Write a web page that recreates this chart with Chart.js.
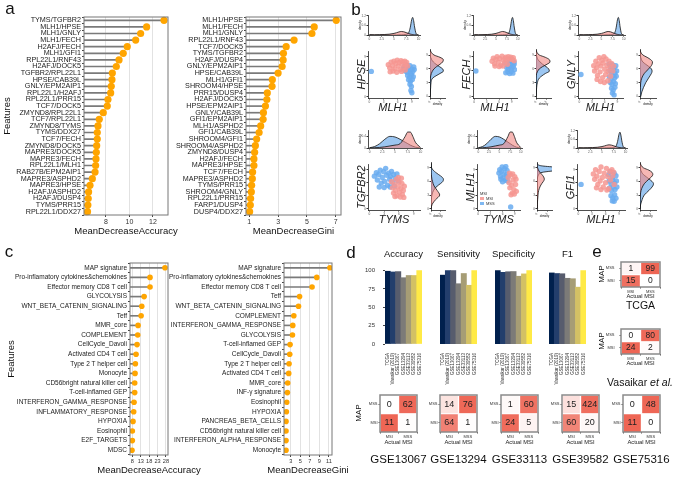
<!DOCTYPE html>
<html>
<head>
<meta charset="utf-8">
<script src="https://cdn.jsdelivr.net/npm/chart.js@4.4.1/dist/chart.umd.min.js"></script>
<style>
body { margin: 0; background: #fff; }
#fig { position: relative; width: 676px; height: 478px; overflow: hidden; font-family: "Liberation Sans", Arial, sans-serif; color: #111; }
.t { position: absolute; white-space: nowrap; line-height: 1; transform: translate(-50%, -50%); }
.lg { position: absolute; font-size: 4px; line-height: 5px; color: #333; }
.lg i { display: inline-block; width: 4px; height: 3px; margin-right: 2px; vertical-align: middle; }
</style>
</head>
<body>
<div id="fig"></div>
<script>
// ---- a: importance of gene pairs ----
const accPairs = ['TYMS/TGFBR2', 'MLH1/HPSE', 'MLH1/GNLY', 'MLH1/FECH', 'H2AFJ/FECH', 'MLH1/GFI1', 'RPL22L1/RNF43', 'H2AFJ/DOCK5', 'TGFBR2/RPL22L1', 'HPSE/CAB39L', 'GNLY/EPM2AIP1', 'RPL22L1/H2AFJ', 'RPL22L1/PRR15', 'TCF7/DOCK5', 'ZMYND8/RPL22L1', 'TCF7/RPL22L1', 'ZMYND8/TYMS', 'TYMS/DDX27', 'TCF7/FECH', 'ZMYND8/DOCK5', 'MAPRE3/DOCK5', 'MAPRE3/FECH', 'RPL22L1/MLH1', 'RAB27B/EPM2AIP1', 'MAPRE3/ASPHD2', 'MAPRE3/HPSE', 'H2AFJ/ASPHD2', 'H2AFJ/DUSP4', 'TYMS/PRR15', 'RPL22L1/DDX27'];
const accVals = [12.94, 11.46, 10.95, 10.53, 9.81, 9.47, 9.11, 8.88, 8.54, 8.51, 8.45, 8.40, 8.17, 8.11, 7.77, 7.43, 7.32, 7.26, 7.26, 7.21, 7.18, 7.15, 7.12, 7.07, 6.84, 6.64, 6.52, 6.49, 6.46, 6.43];
const giniPairs = ['MLH1/HPSE', 'MLH1/FECH', 'MLH1/GNLY', 'RPL22L1/RNF43', 'TCF7/DOCK5', 'TYMS/TGFBR2', 'H2AFJ/DUSP4', 'GNLY/EPM2AIP1', 'HPSE/CAB39L', 'MLH1/GFI1', 'SHROOM4/HPSE', 'PRR15/DUSP4', 'H2AFJ/DOCK5', 'HPSE/EPM2AIP1', 'GNLY/CAB39L', 'GFI1/EPM2AIP1', 'MLH1/ASPHD2', 'GFI1/CAB39L', 'SHROOM4/GFI1', 'SHROOM4/ASPHD2', 'ZMYND8/DUSP4', 'H2AFJ/FECH', 'MAPRE3/HPSE', 'TCF7/FECH', 'MAPRE3/ASPHD2', 'TYMS/PRR15', 'SHROOM4/GNLY', 'RPL22L1/PRR15', 'FARP1/DUSP4', 'DUSP4/DDX27'];
const giniVals = [7.04, 5.51, 5.35, 4.11, 3.56, 3.37, 3.35, 3.28, 3.0, 2.6, 2.58, 2.25, 2.22, 2.12, 1.98, 1.96, 1.79, 1.68, 1.51, 1.42, 1.37, 1.32, 1.32, 1.23, 1.21, 1.16, 1.14, 1.09, 1.07, 1.02];
const aAccTicks = [8, 10, 12];
const aGiniTicks = [1, 3, 5, 7];

// ---- c: importance of signatures ----
const cAccFeats = ['MAP signature', 'Pro-inflamatory cytokines&chemokines', 'Effector memory CD8 T cell', 'GLYCOLYSIS', 'WNT_BETA_CATENIN_SIGNALING', 'Teff', 'MMR_core', 'COMPLEMENT', 'CellCycle_Davoli', 'Activated CD4 T cell', 'Type 2 T helper cell', 'Monocyte', 'CD56bright natural killer cell', 'T-cell-inflamed GEP', 'INTERFERON_GAMMA_RESPONSE', 'INFLAMMATORY_RESPONSE', 'HYPOXIA', 'Eosinophil', 'E2F_TARGETS', 'MDSC'];
const cAccVals = [27.4, 18.5, 18.5, 15.0, 13.6, 13.2, 11.4, 11.2, 10.8, 10.2, 9.8, 9.6, 9.4, 9.4, 9.0, 8.8, 8.4, 8.0, 8.0, 7.8];
const cGiniFeats = ['MAP signature', 'Pro-inflamatory cytokines&chemokines', 'Effector memory CD8 T cell', 'Teff', 'WNT_BETA_CATENIN_SIGNALING', 'COMPLEMENT', 'INTERFERON_GAMMA_RESPONSE', 'GLYCOLYSIS', 'T-cell-inflamed GEP', 'CellCycle_Davoli', 'Type 2 T helper cell', 'Activated CD4 T cell', 'MMR_core', 'INF-γ signature', 'Eosinophil', 'HYPOXIA', 'PANCREAS_BETA_CELLS', 'CD56bright natural killer cell', 'INTERFERON_ALPHA_RESPONSE', 'Monocyte'];
const cGiniVals = [11.2, 8.45, 7.46, 4.84, 4.62, 3.64, 3.42, 3.35, 2.85, 2.78, 2.64, 2.57, 2.36, 2.29, 2.15, 2.08, 2.0, 2.0, 2.0, 2.0];
const cAccTicks = [8, 13, 18, 23, 28];
const cGiniTicks = [3, 5, 7, 9, 11];

// ---- b: expression scatter (MSI pink, MSS blue) ----
const hpseMSI = [[4.0,7.2],[4.3,6.5],[4.6,7.8],[4.9,7.0],[5.2,8.0],[5.4,6.3],[5.6,7.5],[5.9,8.2],[6.1,6.9],[6.3,7.7],[6.5,6.1],[6.7,8.1],[6.9,7.3],[7.1,7.9],[7.3,6.6],[7.5,8.0],[7.7,7.2],[7.9,7.7],[8.1,6.9],[5.0,5.8],[5.8,5.5],[6.8,5.7],[4.4,5.6],[7.6,6.0]];
const hpseMSS = [[7.4,6.8],[7.8,7.2],[8.2,6.5],[8.6,7.0],[9.0,6.2],[9.4,6.7],[7.6,5.8],[8.0,5.5],[8.4,6.0],[8.8,5.3],[9.2,5.7],[9.5,6.1],[8.1,4.8],[8.5,4.4],[8.9,4.9],[9.3,4.5],[8.3,3.8],[8.7,3.5],[9.1,3.9],[8.6,2.8],[8.9,2.3],[8.8,1.4],[9.0,0.9],[7.2,6.3],[0.4,5.7]];
const fechMSI = [[4.3,8.0],[4.6,8.7],[4.9,7.4],[5.2,8.4],[5.5,9.0],[5.8,7.8],[6.1,8.6],[6.4,7.1],[6.7,9.1],[7.0,8.2],[7.3,7.6],[7.6,8.9],[7.9,8.3],[8.2,9.0],[8.5,8.5],[8.8,8.9],[9.1,8.4],[9.4,8.8],[5.0,6.9],[6.0,6.8],[6.9,6.9],[8.0,7.3],[9.6,8.1],[7.4,8.6]];
const fechMSS = [[7.6,7.6],[8.0,7.2],[8.4,7.9],[8.8,7.4],[9.2,7.9],[9.6,7.3],[7.8,6.6],[8.2,6.2],[8.6,6.8],[9.0,6.4],[9.4,6.8],[9.7,6.1],[8.1,5.6],[8.5,5.2],[8.9,5.7],[9.3,5.3],[7.6,5.4],[9.6,7.8],[0.4,5.8]];
const gnlyMSI = [[3.4,7.0],[3.6,5.8],[3.9,8.0],[4.1,6.5],[4.3,4.8],[4.5,7.4],[4.7,8.8],[4.9,5.6],[5.1,6.9],[5.3,8.2],[5.5,4.3],[5.6,7.6],[5.8,9.0],[6.0,6.2],[6.2,5.0],[6.3,8.5],[6.5,7.1],[6.7,3.6],[6.8,5.7],[7.0,8.0],[7.2,6.6],[7.4,4.6],[7.6,7.5],[7.9,5.8],[8.1,6.9],[5.0,3.4],[4.2,3.9],[5.9,3.2]];
const gnlyMSS = [[7.0,7.4],[7.4,6.8],[7.8,7.2],[8.2,6.5],[8.6,7.0],[7.2,5.9],[7.6,5.4],[8.0,6.0],[8.4,5.3],[8.8,5.8],[7.1,4.5],[7.5,4.0],[7.9,4.7],[8.3,4.2],[8.7,4.6],[7.3,3.2],[7.7,2.8],[8.1,3.4],[8.5,2.9],[7.6,1.9],[8.0,1.5],[8.4,2.1],[7.8,0.8],[8.2,0.4],[0.4,5.0]];
const tgfMSS = [[1.0,7.5],[1.4,8.3],[1.6,6.6],[1.9,7.9],[2.2,8.9],[2.4,5.9],[2.6,7.2],[2.9,8.5],[3.1,6.3],[3.3,9.3],[3.5,7.7],[3.7,5.4],[3.9,8.2],[4.1,6.8],[4.3,7.4],[4.5,8.6],[4.7,6.1],[4.9,7.9],[5.1,5.2],[5.3,7.0],[5.6,8.0],[5.8,6.4],[2.0,5.0],[3.0,4.9],[4.2,5.0]];
const tgfMSI = [[4.5,6.2],[4.7,4.8],[4.9,3.6],[5.1,5.6],[5.3,4.2],[5.5,6.8],[5.6,3.0],[5.8,5.0],[6.0,6.1],[6.1,3.8],[6.3,2.7],[6.4,4.6],[6.6,5.8],[6.7,3.3],[6.9,4.2],[7.1,5.2],[7.0,2.6],[5.9,7.2],[6.5,7.0],[5.2,2.8]];
const mlhMSS = [[5.1,8.2],[5.3,9.0],[5.5,7.4],[5.7,8.6],[5.9,9.6],[6.1,7.0],[6.3,8.0],[6.5,9.2],[6.7,6.6],[6.9,7.8],[7.1,8.8],[7.2,6.4],[6.0,6.2],[5.6,6.8],[6.8,9.7],[7.3,7.4],[8.0,0.4]];
const mlhMSI = [[7.4,7.2],[7.6,6.0],[7.8,4.8],[8.0,7.8],[8.2,5.4],[8.4,3.6],[8.6,6.6],[8.8,4.4],[9.0,7.4],[9.2,5.6],[9.4,4.0],[8.1,3.2],[8.9,3.4],[7.7,8.2],[9.3,6.8],[8.5,8.0]];
const gfiMSI = [[3.3,8.0],[3.6,6.8],[3.8,9.0],[4.1,7.5],[4.3,5.6],[4.6,8.6],[4.8,6.4],[5.0,9.6],[5.3,7.2],[5.5,5.0],[5.7,8.2],[6.0,6.0],[6.2,9.3],[6.4,7.4],[6.7,4.6],[6.9,8.6],[7.1,6.6],[7.4,9.0],[7.6,7.6],[7.9,5.6],[5.0,4.4],[4.0,4.8],[6.3,4.3],[7.8,8.4]];
const gfiMSS = [[6.7,7.8],[7.1,8.6],[7.5,7.2],[7.9,8.2],[8.3,7.6],[6.8,6.4],[7.2,5.8],[7.6,6.6],[8.0,5.9],[8.4,6.4],[6.9,4.8],[7.3,4.2],[7.7,5.0],[8.1,4.4],[8.5,5.0],[7.2,3.0],[7.6,2.5],[8.0,3.2],[8.3,2.4],[7.5,1.8],[7.9,1.7],[0.6,5.6]];
const scTicks = [0, 3, 6, 9];

// ---- b: marginal densities ----
const mlhGrid = [0, 1, 2, 3, 4, 5, 5.5, 6, 6.5, 7, 7.5, 8, 8.3, 8.6, 8.8, 9, 9.2, 9.5, 10];
const mlhDensMSI = [0.01, 0.01, 0.02, 0.03, 0.05, 0.1, 0.14, 0.19, 0.22, 0.2, 0.15, 0.09, 0.06, 0.04, 0.03, 0.02, 0.01, 0.01, 0];
const mlhDensMSS = [0.02, 0, 0, 0, 0, 0, 0, 0.01, 0.01, 0.02, 0.05, 0.15, 0.45, 0.95, 1.1, 0.9, 0.5, 0.1, 0];
const tymsGrid = [0, 1, 2, 3, 4, 5, 6, 7, 7.5, 8, 8.5, 9, 10];
const tymsDensMSS = [0.01, 0.05, 0.15, 0.3, 0.4, 0.38, 0.3, 0.2, 0.15, 0.1, 0.06, 0.03, 0];
const tymsDensMSI = [0, 0.01, 0.02, 0.04, 0.07, 0.1, 0.15, 0.4, 0.55, 0.55, 0.4, 0.2, 0.02];
const geneGrid = [0, 1, 2, 3, 4, 5, 5.5, 6, 6.5, 7, 7.5, 8, 8.5, 9, 10];
const hpseDensMSI = [0, 0, 0, 0, 0.01, 0.04, 0.07, 0.12, 0.2, 0.3, 0.38, 0.4, 0.3, 0.12, 0];
const hpseDensMSS = [0, 0.01, 0.02, 0.03, 0.08, 0.3, 0.4, 0.38, 0.28, 0.18, 0.1, 0.05, 0.02, 0.01, 0];
const fechDensMSI = [0, 0, 0, 0, 0, 0.02, 0.05, 0.1, 0.2, 0.33, 0.42, 0.4, 0.28, 0.1, 0];
const fechDensMSS = [0, 0.01, 0.02, 0.04, 0.1, 0.28, 0.4, 0.38, 0.3, 0.2, 0.12, 0.06, 0.03, 0.01, 0];
const gnlyDensMSI = [0, 0, 0.01, 0.02, 0.05, 0.12, 0.18, 0.24, 0.3, 0.34, 0.35, 0.3, 0.2, 0.08, 0];
const gnlyDensMSS = [0.02, 0.05, 0.1, 0.16, 0.24, 0.32, 0.34, 0.32, 0.25, 0.16, 0.08, 0.04, 0.02, 0.01, 0];
const tgfDensMSI = [0, 0.04, 0.15, 0.28, 0.2, 0.1, 0.07, 0.05, 0.03, 0.02, 0.01, 0, 0, 0, 0];
const tgfDensMSS = [0, 0, 0.01, 0.03, 0.08, 0.2, 0.3, 0.38, 0.4, 0.35, 0.25, 0.15, 0.07, 0.02, 0];
const gfiDensMSI = [0, 0, 0, 0.01, 0.03, 0.08, 0.12, 0.18, 0.25, 0.32, 0.36, 0.34, 0.25, 0.1, 0];
const gfiDensMSS = [0, 0.02, 0.06, 0.12, 0.25, 0.36, 0.38, 0.34, 0.26, 0.18, 0.1, 0.05, 0.02, 0.01, 0];
const densXTicks = [0, 2.5, 5, 7.5, 10];
const densSideTicks = [0, 0.1, 0.2, 0.3, 0.4];

// ---- d: performance ----
const dSets = ['TCGA', 'Vasaikar (2019)', 'GSE13067', 'GSE13294', 'GSE33113', 'GSE39582', 'GSE75316'];
const accuracy = [99.1, 98.1, 98.6, 90.3, 93.3, 93.3, 100];
const sensitivity = [93.8, 100, 100, 82.1, 96.0, 80.0, 100];
const specificity = [100, 97.6, 98.4, 98.7, 92.3, 95.5, 100];
const f1 = [96.8, 96.0, 95.7, 89.5, 88.9, 77.4, 100];
const barTicks = [0, 25, 50, 75, 100];

// ---- d/e: confusion matrices, rows = MAP MSS, MAP MSI; cols = actual MSI, MSS ----
const cmTCGA = [[1, 99], [15, 0]];
const cmVasaikar = [[0, 80], [24, 2]];
const cmGSE13067 = [[0, 62], [11, 1]];
const cmGSE13294 = [[14, 76], [64, 1]];
const cmGSE33113 = [[1, 60], [24, 5]];
const cmGSE39582 = [[15, 424], [60, 20]];
const cmGSE75316 = [[0, 48], [11, 0]];
const cmCols = ['MSI', 'MSS'];
const cmRows = ['MSI', 'MSS'];

// ---- styles ----
const FONT = '"Liberation Sans", Arial, sans-serif';
const ORANGE = '#FFA500';
const PINK = 'rgba(246,150,146,0.85)', BLUE = 'rgba(105,172,240,0.85)';
const PINK_F = 'rgba(242,135,130,0.6)', BLUE_F = 'rgba(90,160,232,0.6)';
const dColors = ['#00204D', '#233E6C', '#575C6D', '#7C7B78', '#A69D75', '#D3C164', '#FFEA46'];
Chart.defaults.font.family = FONT;
Chart.defaults.color = '#222';

const fig = document.getElementById('fig');

Chart.register({
    id: 'frame',
    afterDraw(ch, args, o) {
        if (!o.color) return;
        const a = ch.chartArea, c = ch.ctx;
        c.save();
        c.strokeStyle = o.color;
        c.lineWidth = o.width || 1;
        c.strokeRect(a.left, a.top, a.right - a.left, a.bottom - a.top);
        c.restore();
    }
});
Chart.register({
    id: 'cellText',
    afterDatasetsDraw(ch, args, o) {
        if (!o.size) return;
        const c = ch.ctx;
        c.save();
        c.font = o.size + 'px ' + FONT;
        c.fillStyle = '#222';
        c.textAlign = 'center';
        c.textBaseline = 'middle';
        ch.data.datasets.forEach((ds, i) => {
            ch.getDatasetMeta(i).data.forEach((b, j) => {
                c.fillText(ds.counts[j], b.x, (b.y + b.base) / 2);
            });
        });
        c.restore();
    }
});

// plot = [left, top, width, height] of the chart area, m = [left, right, top, bottom] margins
function place(plot, m, cfg) {
    const [x, y, w, h] = plot;
    const cw = w + m[0] + m[1], chh = h + m[2] + m[3];
    const cv = document.createElement('canvas');
    cv.width = cw;
    cv.height = chh;
    cv.style.cssText = `position:absolute;left:${x - m[0]}px;top:${y - m[2]}px;width:${cw}px;height:${chh}px;`;
    fig.appendChild(cv);
    const o = cfg.options;
    o.responsive = false;
    o.animation = false;
    o.devicePixelRatio = 1;
    o.events = [];
    o.layout = { padding: { left: 0, right: m[1], top: m[2], bottom: 0 } };
    o.plugins = Object.assign({ legend: { display: false }, tooltip: { enabled: false } }, o.plugins || {});
    ['x', 'y'].forEach(k => {
        o.scales[k].afterFit = s => {
            if (s.isHorizontal()) s.height = m[3]; else s.width = m[0];
            s.paddingLeft = s.paddingRight = s.paddingTop = s.paddingBottom = 0;
        };
    });
    return new Chart(cv, cfg);
}

function setTicks(list) {
    return s => { s.ticks = list.map(v => ({ value: v })); };
}

function txt(html, x, y, size, extra) {
    const d = document.createElement('div');
    d.className = 't';
    d.innerHTML = html;
    d.style.left = x + 'px';
    d.style.top = y + 'px';
    d.style.fontSize = size + 'px';
    if (extra) d.style.cssText += extra;
    fig.appendChild(d);
}

// lollipop chart (x title drawn as text below, so it is not squeezed to the plot width)
function lollipop(plot, m, labels, vals, range, ticks, xTitle, feat, fs, xfs, r) {
    place(plot, m, {
        type: 'bar',
        data: {
            labels: labels,
            datasets: [
                { data: vals, backgroundColor: '#7a7a7a', barThickness: 1, order: 2 },
                { type: 'line', data: vals, showLine: false, pointRadius: r, pointBackgroundColor: ORANGE, pointBorderWidth: 0, order: 1 }
            ]
        },
        options: {
            indexAxis: 'y',
            scales: {
                x: {
                    min: range[0], max: range[1], afterBuildTicks: setTicks(ticks),
                    grid: { color: '#e2e2e2', tickLength: 2, tickColor: '#444' }, border: { display: false },
                    ticks: { font: { size: xfs }, color: '#333', padding: 1, maxRotation: 0, autoSkip: false }
                },
                y: {
                    grid: { drawOnChartArea: false, tickLength: 2, color: '#444' }, border: { display: false },
                    ticks: { font: { size: fs }, color: '#222', padding: 1, autoSkip: false },
                    title: { display: feat, text: 'Features', font: { size: 9.5 }, padding: 0, color: '#111' }
                }
            },
            plugins: { frame: { color: '#777', width: 1 } }
        }
    });
    txt(xTitle, plot[0] + plot[2] / 2, plot[1] + plot[3] + m[3] - 5.5, 9.5);
}

lollipop([84, 17, 84, 198], [82, 12, 7, 21], accPairs, accVals, [6.13, 13.28], aAccTicks, 'MeanDecreaseAccuracy', true, 7.2, 7, 3.6);
lollipop([246, 17, 95, 198], [76, 8, 7, 21], giniPairs, giniVals, [0.77, 7.37], aGiniTicks, 'MeanDecreaseGini', false, 7.2, 7, 3.6);
lollipop([130, 263, 38, 192], [124, 40, 7, 20], cAccFeats, cAccVals, [6.6, 29.2], cAccTicks, 'MeanDecreaseAccuracy', true, 6.5, 5.6, 2.8);
lollipop([284, 263, 48, 192], [116, 30, 7, 20], cGiniFeats, cGiniVals, [1.58, 11.64], cGiniTicks, 'MeanDecreaseGini', false, 6.5, 5.6, 2.8);

// scatter with marginal densities
const tiny = { font: { size: 3.2 }, color: '#555', padding: 0.5 };
function axLine(min, max, ticks, title, tsize, italic) {
    return {
        type: 'linear', min: min, max: max, afterBuildTicks: setTicks(ticks),
        grid: { display: true, drawOnChartArea: false, tickLength: 1.5, color: '#333' },
        border: { color: '#222', width: 0.8 },
        ticks: tiny,
        title: { display: !!title, text: title || '', font: { size: tsize, style: italic ? 'italic' : 'normal' }, padding: 0, color: '#222' }
    };
}
function scatter(plot, msi, mss, xTitle, yTitle) {
    place(plot, [13, 2, 2, 17], {
        type: 'scatter',
        data: {
            datasets: [
                { data: msi.map(p => ({ x: p[0], y: p[1] })), backgroundColor: PINK, pointRadius: 2.7, borderWidth: 0 },
                { data: mss.map(p => ({ x: p[0], y: p[1] })), backgroundColor: BLUE, pointRadius: 2.7, borderWidth: 0 }
            ]
        },
        options: { scales: { x: axLine(-0.3, 10.3, scTicks, xTitle, 11, true), y: axLine(-0.3, 10.3, scTicks, yTitle, 11, true) } }
    });
}
function densSet(grid, d, col, side) {
    return {
        data: grid.map((g, i) => side ? { x: d[i], y: g } : { x: g, y: d[i] }),
        backgroundColor: col, borderColor: '#111', borderWidth: 0.8, fill: 'origin',
        pointRadius: 0, cubicInterpolationMode: 'monotone'
    };
}
function densTop(plot, grid, msi, mss, yMax, yTicks) {
    place(plot, [10, 2, 1, 5], {
        type: 'line',
        data: { datasets: [densSet(grid, msi, PINK_F, false), densSet(grid, mss, BLUE_F, false)] },
        options: { scales: { x: axLine(-0.3, 10.3, densXTicks), y: axLine(0, yMax, yTicks, 'density', 3) } }
    });
}
function densSide(plot, grid, msi, mss) {
    place(plot, [7, 2, 2, 8], {
        type: 'line',
        data: { datasets: [densSet(grid, msi, PINK_F, true), densSet(grid, mss, BLUE_F, true)] },
        options: { indexAxis: 'y', scales: { x: axLine(0, 0.45, densSideTicks, 'density', 3), y: axLine(-0.3, 10.3, scTicks) } }
    });
}
const mlhTopTicks = [0, 0.3, 0.6, 0.9, 1.2];
const tymsTopTicks = [0, 0.2, 0.4, 0.6];

scatter([368, 49, 52, 49], hpseMSI, hpseMSS, 'MLH1', 'HPSE');
densTop([368, 15, 52, 20], mlhGrid, mlhDensMSI, mlhDensMSS, 1.25, mlhTopTicks);
densSide([430, 49, 15, 49], geneGrid, hpseDensMSI, hpseDensMSS);

scatter([473, 49, 46, 49], fechMSI, fechMSS, 'MLH1', 'FECH');
densTop([473, 15, 46, 20], mlhGrid, mlhDensMSI, mlhDensMSS, 1.25, mlhTopTicks);
densSide([536, 49, 15, 49], geneGrid, fechDensMSI, fechDensMSS);

scatter([578, 49, 47, 49], gnlyMSI, gnlyMSS, 'MLH1', 'GNLY');
densTop([578, 15, 47, 20], mlhGrid, mlhDensMSI, mlhDensMSS, 1.25, mlhTopTicks);
densSide([640, 49, 16, 49], geneGrid, gnlyDensMSI, gnlyDensMSS);

scatter([368, 162, 54, 48], tgfMSI, tgfMSS, 'TYMS', 'TGFBR2');
densTop([368, 130, 54, 18], tymsGrid, tymsDensMSI, tymsDensMSS, 0.62, tymsTopTicks);
densSide([431, 162, 14, 48], geneGrid, tgfDensMSI, tgfDensMSS);

scatter([477, 162, 45, 48], mlhMSI, mlhMSS, 'TYMS', 'MLH1');
densTop([477, 130, 45, 18], tymsGrid, tymsDensMSI, tymsDensMSS, 0.62, tymsTopTicks);
densSide([537, 162, 15, 48], mlhGrid, mlhDensMSI, mlhDensMSS);

scatter([577, 162, 50, 48], gfiMSI, gfiMSS, 'MLH1', 'GFI1');
densTop([577, 130, 50, 18], mlhGrid, mlhDensMSI, mlhDensMSS, 1.25, mlhTopTicks);
densSide([640, 162, 16, 48], geneGrid, gfiDensMSI, gfiDensMSS);

// legend inside the TYMS / MLH1 panel
const lg = document.createElement('div');
lg.className = 'lg';
lg.style.left = '480px';
lg.style.top = '191px';
lg.innerHTML = 'MSI<br><i style="background:' + PINK + '"></i>MSI<br><i style="background:' + BLUE + '"></i>MSS';
fig.appendChild(lg);

// d: bar panels
function barPanel(plot, vals, showY) {
    place(plot, [showY ? 30 : 0, 0, 0, 44], {
        type: 'bar',
        data: { labels: dSets, datasets: [{ data: vals, backgroundColor: dColors, barPercentage: 1, categoryPercentage: 1 }] },
        options: {
            scales: {
                x: { grid: { display: false }, border: { display: false }, ticks: { font: { size: 4.5 }, color: '#333', minRotation: 90, maxRotation: 90, autoSkip: false, padding: 1 } },
                y: { display: showY, min: 0, max: 103.5, afterBuildTicks: setTicks(barTicks), grid: { drawOnChartArea: false, tickLength: 2, color: '#444' }, border: { display: false }, ticks: { font: { size: 6 }, color: '#333', padding: 8 } }
            }
        }
    });
}
const barX = [385, 440, 495, 549];
barPanel([barX[0], 268, 37, 76], accuracy, true);
barPanel([barX[1], 268, 37, 76], sensitivity, false);
barPanel([barX[2], 268, 37, 76], specificity, false);
barPanel([barX[3], 268, 37, 76], f1, false);
['Accuracy', 'Sensitivity', 'Specificity', 'F1'].forEach((s, i) => txt(s, barX[i] + 18.5, 254, 9.5));

// confusion matrices
function confMat(plot, m, cm, fs, pad) {
    const colSum = [cm[0][0] + cm[1][0], cm[0][1] + cm[1][1]];
    const shade = (v, j) => {
        const f = colSum[j] ? v / colSum[j] : 0;
        return `rgb(${Math.round(255 - 17 * f)},${Math.round(255 - 153 * f)},${Math.round(255 - 170 * f)})`;
    };
    const row = r => ({ data: [1, 1], counts: cm[r], backgroundColor: cm[r].map(shade), borderColor: '#fff', borderWidth: 1, barPercentage: 1, categoryPercentage: 1 });
    place(plot, m, {
        type: 'bar',
        data: { labels: cmCols, datasets: [row(1), row(0)] },
        options: {
            scales: {
                x: { stacked: true, grid: { drawOnChartArea: false, tickLength: 1.5, color: '#555' }, border: { display: false }, ticks: { font: { size: 4 }, color: '#333', padding: 0.5 }, title: { display: true, text: 'Actual MSI', font: { size: 5.8 }, padding: 0, color: '#222' } },
                y: { stacked: true, min: 0, max: 2, afterBuildTicks: setTicks([0.5, 1.5]), grid: { drawOnChartArea: false, tickLength: 1.5, color: '#555' }, border: { display: false }, ticks: { font: { size: 4 }, color: '#333', padding: pad, callback: (v, i) => cmRows[i] } }
            },
            plugins: { frame: { color: '#8a8a8a', width: 1.5 }, cellText: { size: fs } }
        }
    });
}
const cmD = [cmGSE13067, cmGSE13294, cmGSE33113, cmGSE39582, cmGSE75316];
const cmDNames = ['GSE13067', 'GSE13294', 'GSE33113', 'GSE39582', 'GSE75316'];
const cmX = [380, 440, 501, 562, 623];
cmD.forEach((cm, i) => {
    confMat([cmX[i], 395, 37, 37], [11, 2, 2, 14], cm, 9, 1);
    txt(cmDNames[i], cmX[i] + 18.5, 460, 11.5);
});
txt('MAP', 359, 413, 8, 'transform:translate(-50%,-50%) rotate(-90deg);');

confMat([621, 262, 39, 25], [18, 2, 2, 13], cmTCGA, 8.5, 5);
confMat([621, 329, 39, 25], [18, 2, 2, 13], cmVasaikar, 8.5, 5);
txt('TCGA', 640.5, 305, 10.5);
txt('Vasaikar <i>et al.</i>', 640, 382, 10.5);
txt('MAP', 602, 274, 8, 'transform:translate(-50%,-50%) rotate(-90deg);');
txt('MAP', 602, 341, 8, 'transform:translate(-50%,-50%) rotate(-90deg);');

// panel letters
[['a', 10, 8], ['b', 356, 9], ['c', 9, 251], ['d', 351, 252], ['e', 597, 251]].forEach(l => txt(l[0], l[1], l[2], 17));
</script>
</body>
</html>
